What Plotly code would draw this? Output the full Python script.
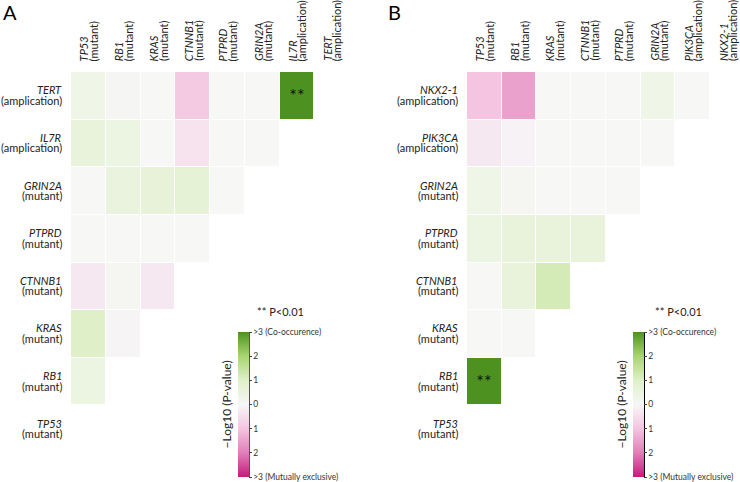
import plotly.graph_objects as go

# ---------------- data ----------------
A_rows = ["TERT", "IL7R", "GRIN2A", "PTPRD", "CTNNB1", "KRAS", "RB1", "TP53"]
A_row_types = ["amplication", "amplication", "mutant", "mutant", "mutant", "mutant", "mutant", "mutant"]
A_cols = ["TP53", "RB1", "KRAS", "CTNNB1", "PTPRD", "GRIN2A", "IL7R", "TERT"]
A_col_types = ["mutant", "mutant", "mutant", "mutant", "mutant", "mutant", "amplication", "amplication"]
A_z = [
    [0.35, 0.08, 0.02, -0.9, 0.02, 0.02, 3.0],
    [0.6, 0.45, 0.02, -0.4, 0.02, 0.02],
    [0.02, 0.55, 0.65, 0.7, 0.02],
    [0.02, 0.02, 0.02, 0.02],
    [-0.3, 0.1, -0.3],
    [1.0, -0.05],
    [0.45],
    [],
]
A_sig = {(0, 6): "**"}

B_rows = ["NKX2-1", "PIK3CA", "GRIN2A", "PTPRD", "CTNNB1", "KRAS", "RB1", "TP53"]
B_row_types = ["amplication", "amplication", "mutant", "mutant", "mutant", "mutant", "mutant", "mutant"]
B_cols = ["TP53", "RB1", "KRAS", "CTNNB1", "PTPRD", "GRIN2A", "PIK3CA", "NKX2-1"]
B_col_types = ["mutant", "mutant", "mutant", "mutant", "mutant", "mutant", "amplication", "amplication"]
B_z = [
    [-1.0, -1.5, 0.02, 0.02, 0.02, 0.35, 0.02],
    [-0.3, -0.1, 0.02, 0.02, 0.02, 0.02],
    [0.35, 0.1, 0.02, 0.02, 0.02],
    [0.45, 0.6, 0.6, 0.6],
    [0.02, 0.6, 1.2],
    [0.02, 0.02],
    [3.0],
    [],
]
B_sig = {(6, 0): "**"}

cb_vals = [-3, -2, -1, 0, 1, 2, 3]
cb_text = [">3 (Mutually exclusive)", "2", "1", "0", "1", "2", ">3 (Co-occurence)"]

colorscale = [
    [0.0, "#c51b7d"],
    [1 / 6, "#e07fb8"],
    [2 / 6, "#f4c4e0"],
    [0.5, "#f7f7f7"],
    [4 / 6, "#dff0c8"],
    [5 / 6, "#a8d571"],
    [1.0, "#4d9221"],
]

W, H = 740, 482
FONT = "Lato"


def grid(zrows, sig):
    n = len(zrows)
    z, txt = [], []
    for i in range(n):
        row = list(zrows[i]) + [None] * (n - len(zrows[i]))
        z.append(row)
        txt.append([sig.get((i, j), "") for j in range(n)])
    return z, txt


fig = go.Figure()

panels = [
    dict(rows=A_rows, rtypes=A_row_types, cols=A_cols, ctypes=A_col_types, z=A_z, sig=A_sig,
         xd=[71 / W, 349 / W], xr=[-0.5, 7.5], cbx=238, letter="A", lx=1, starx=255),
    dict(rows=B_rows, rtypes=B_row_types, cols=B_cols, ctypes=B_col_types, z=B_z, sig=B_sig,
         xd=[467 / W, 1.0], xr=[-0.5, 7.36], cbx=633, letter="B", lx=386, starx=653),
]

annotations = []
shapes = []
yd = [1 - 453 / H, 1 - 72 / H]
cb_top, cb_bot = 332, 477

for k, p in enumerate(panels):
    xa = "x" if k == 0 else "x2"
    ya = "y" if k == 0 else "y2"
    z, txt = grid(p["z"], p["sig"])
    n = len(p["rows"])
    fig.add_trace(go.Heatmap(
        z=z, x=list(range(n)), y=list(range(n)), text=txt, texttemplate="%{text}",
        textfont=dict(family=FONT, size=18, color="#111"),
        zmin=-3, zmax=3, colorscale=colorscale, xgap=1, ygap=1, hoverongaps=False,
        xaxis=xa, yaxis=ya,
        colorbar=dict(
            x=p["cbx"] / W, xanchor="left", xpad=0, ypad=0,
            y=1 - (cb_top + cb_bot) / 2 / H, yanchor="middle",
            len=(cb_bot - cb_top) / H, lenmode="fraction",
            thickness=11, thicknessmode="pixels", outlinewidth=0,
            tickvals=cb_vals, ticktext=cb_text, ticks="outside", ticklen=3,
            tickcolor="#444", tickfont=dict(family=FONT, size=8.5, color="#333"),
        ),
    ))
    axx = dict(domain=p["xd"], range=p["xr"], showgrid=False, zeroline=False,
               showticklabels=False, ticks="", showline=False)
    axy = dict(domain=yd, range=[7.5, -0.5], showgrid=False, zeroline=False,
               showticklabels=False, ticks="", showline=False)
    if k == 0:
        fig.update_layout(xaxis=axx, yaxis=axy)
    else:
        axx["anchor"] = "y2"
        axy["anchor"] = "x2"
        fig.update_layout(xaxis2=axx, yaxis2=axy)

    # row labels
    for i, (g, t) in enumerate(zip(p["rows"], p["rtypes"])):
        annotations.append(dict(x=-0.5, y=i, xref=xa, yref=ya, text=f"<i>{g}</i>",
                                xanchor="right", yanchor="middle", xshift=-7, yshift=6,
                                showarrow=False, font=dict(family=FONT, size=11, color="#222")))
        annotations.append(dict(x=-0.5, y=i, xref=xa, yref=ya, text=f"({t})",
                                xanchor="right", yanchor="middle", xshift=-7, yshift=-4.5,
                                showarrow=False, font=dict(family=FONT, size=11, color="#222")))
    # column labels
    for j, (g, t) in enumerate(zip(p["cols"], p["ctypes"])):
        annotations.append(dict(x=j, y=-0.5, xref=xa, yref=ya, text=f"<i>{g}</i>",
                                textangle=-90, xanchor="center", yanchor="bottom",
                                xshift=-4.5, yshift=9, showarrow=False,
                                font=dict(family=FONT, size=11, color="#222")))
        annotations.append(dict(x=j, y=-0.5, xref=xa, yref=ya, text=f"({t})",
                                textangle=-90, xanchor="center", yanchor="bottom",
                                xshift=5, yshift=9, showarrow=False,
                                font=dict(family=FONT, size=11, color="#222")))
    # panel letter
    annotations.append(dict(x=p["lx"] / W, y=1 + 2 / H, xref="paper", yref="paper", text=p["letter"],
                            xanchor="left", yanchor="top", showarrow=False,
                            font=dict(family=FONT, size=20, color="#000")))
    # significance note
    annotations.append(dict(x=p["starx"] / W, y=1 - 311 / H, xref="paper", yref="paper",
                            text="** P<0.01", xanchor="left", yanchor="middle", showarrow=False,
                            font=dict(family=FONT, size=11, color="#222")))
    # colorbar title
    annotations.append(dict(x=(p["cbx"] - 12) / W, y=1 - (cb_top + cb_bot) / 2 / H,
                            xref="paper", yref="paper", text="\u2212Log10 (P-value)",
                            textangle=-90, xanchor="center", yanchor="middle", showarrow=False,
                            font=dict(family=FONT, size=12, color="#222")))
    # colorbar axis line
    lx = (p["cbx"] + 11.5) / W
    shapes.append(dict(type="line", xref="paper", yref="paper", x0=lx, x1=lx,
                       y0=1 - cb_top / H, y1=1 - cb_bot / H,
                       line=dict(color="#555" if k == 0 else "#000", width=1)))

fig.update_layout(
    width=W, height=H, margin=dict(l=0, r=0, t=0, b=0, autoexpand=False),
    paper_bgcolor="white", plot_bgcolor="white",
    annotations=annotations, shapes=shapes, showlegend=False,
    font=dict(family=FONT),
)

fig.write_html(
    "out.html",
    config={"displayModeBar": False},
    post_script="document.body.style.margin='0';document.body.style.overflow='hidden';",
)
